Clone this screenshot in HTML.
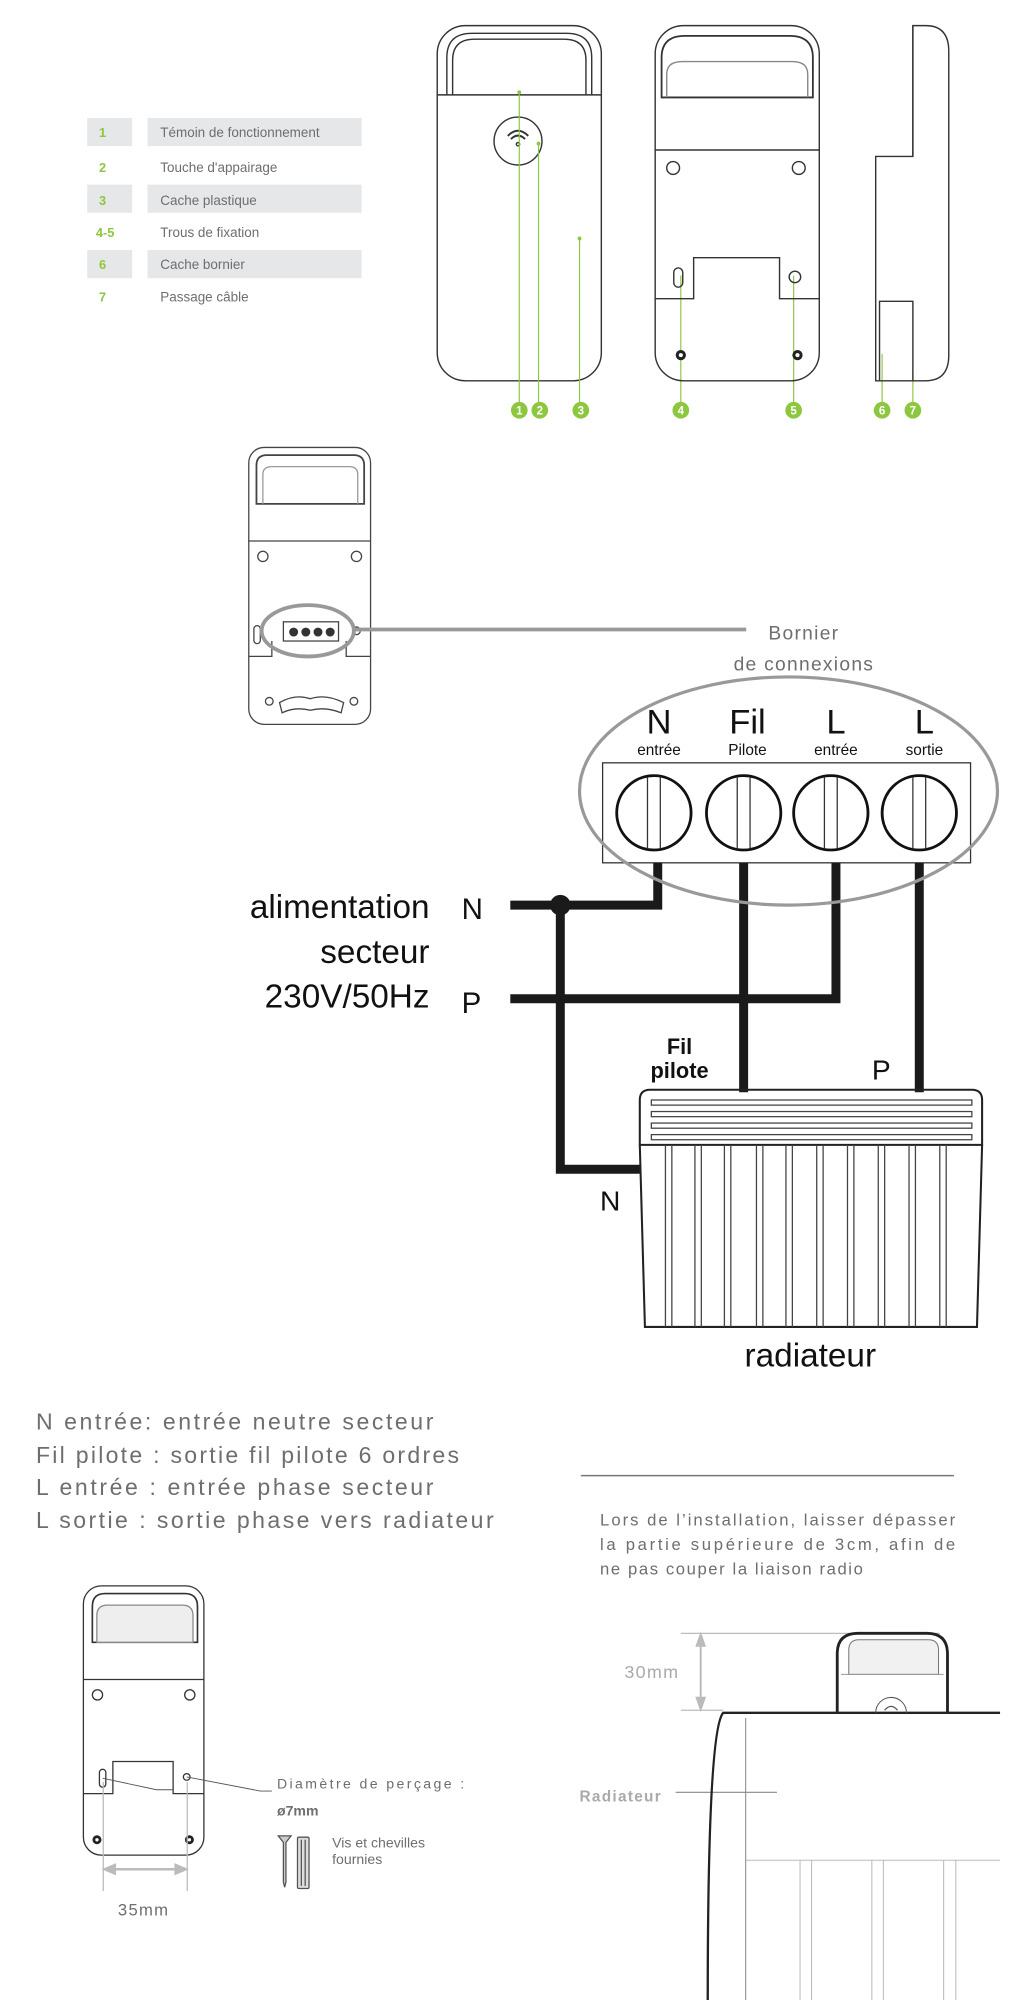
<!DOCTYPE html>
<html><head><meta charset="utf-8"><style>
html,body{margin:0;padding:0;background:#fff;}
svg{display:block;}
.g{font-family:"Liberation Sans",sans-serif;fill:#6d6e70;}
.k{font-family:"Liberation Sans",sans-serif;fill:#111;}
</style></head><body>
<svg width="1036" height="2000" viewBox="0 0 808 1560" xmlns="http://www.w3.org/2000/svg">
<!-- legend -->
<g>
<rect x="68" y="92" width="35" height="22" fill="#e6e7e8"/><rect x="115" y="92" width="167" height="22" fill="#e6e7e8"/>
<rect x="68" y="144" width="35" height="22" fill="#e6e7e8"/><rect x="115" y="144" width="167" height="22" fill="#e6e7e8"/>
<rect x="68" y="195" width="35" height="22" fill="#e6e7e8"/><rect x="115" y="195" width="167" height="22" fill="#e6e7e8"/>
<g font-family="Liberation Sans,sans-serif" font-size="10" font-weight="bold" fill="#8dc63f" text-anchor="middle">
<text x="80" y="107">1</text><text x="80" y="134">2</text><text x="80" y="160">3</text><text x="82" y="185">4-5</text><text x="80" y="210">6</text><text x="80" y="235">7</text></g>
<g class="g" font-size="10.5">
<text x="125" y="107">Témoin de fonctionnement</text><text x="125" y="134">Touche d'appairage</text><text x="125" y="160">Cache plastique</text><text x="125" y="185">Trous de fixation</text><text x="125" y="210">Cache bornier</text><text x="125" y="235">Passage câble</text></g>
</g>
<!-- front device -->
<g fill="none" stroke="#333" stroke-width="1.1">
<rect x="341" y="20" width="128" height="277" rx="22"/>
<path d="M348.5 74 V45 Q348.5 26 368 26 H442 Q461.5 26 461.5 45 V74"/>
<path d="M353 74 V47 Q353 30.6 370 30.6 H440 Q457 30.6 457 47 V74"/>
<line x1="341" y1="74" x2="469" y2="74"/>
<circle cx="404" cy="110" r="18.7"/>
<path d="M396 106 Q404 98 412 106 M398.5 108.5 Q404 103 409.5 108.5" stroke-width="1.5"/>
<circle cx="404" cy="112.5" r="1.3"/>
</g>
<g stroke="#8dc63f" stroke-width="0.9">
<line x1="405" y1="72" x2="405" y2="320"/><line x1="420" y1="112" x2="420" y2="320"/><line x1="452" y1="186" x2="452" y2="320"/>
<line x1="531" y1="215" x2="531" y2="320"/><line x1="619" y1="215" x2="619" y2="320"/>
<line x1="688" y1="276" x2="688" y2="320"/><line x1="712" y1="290" x2="712" y2="320"/>
</g>
<g fill="#8dc63f">
<circle cx="405" cy="320" r="6.5"/><circle cx="421" cy="320" r="6.5"/><circle cx="453" cy="320" r="6.5"/><circle cx="531" cy="320" r="6.5"/><circle cx="619" cy="320" r="6.5"/><circle cx="688" cy="320" r="6.5"/><circle cx="712" cy="320" r="6.5"/>
<circle cx="405" cy="72" r="1.5"/><circle cx="420" cy="112" r="1.5"/><circle cx="452" cy="186" r="1.5"/>
</g>
<g font-family="Liberation Sans,sans-serif" font-size="9" font-weight="bold" fill="#fff" text-anchor="middle">
<text x="405" y="323.5">1</text><text x="421" y="323.5">2</text><text x="453" y="323.5">3</text><text x="531" y="323.5">4</text><text x="619" y="323.5">5</text><text x="688" y="323.5">6</text><text x="712" y="323.5">7</text></g>
<!-- back device -->
<g fill="none" stroke="#333" stroke-width="1.1">
<rect x="511" y="20" width="128" height="277" rx="22"/>
<path d="M516 76 V45 Q516 28 534 28 H616 Q634 28 634 45 V76 Z" stroke-width="1.4"/>
<path d="M520 76 V58 Q520 48 532 48 H618 Q630 48 630 58 V76" stroke="#888"/>
<line x1="511" y1="117" x2="639" y2="117"/>
<circle cx="525" cy="131" r="5"/><circle cx="623" cy="131" r="5"/>
<path d="M511 233 H541 V201 H608 V233 H639"/>
<rect x="525.5" y="209" width="7" height="15" rx="3.5"/>
<circle cx="620" cy="216" r="4.5"/>
</g>
<g><circle cx="531" cy="277" r="4" fill="#222"/><circle cx="531" cy="277" r="1.6" fill="#fff"/><circle cx="622" cy="277" r="4" fill="#222"/><circle cx="622" cy="277" r="1.6" fill="#fff"/></g>
<!-- side view -->
<g fill="none" stroke="#333" stroke-width="1.1">
<path d="M712 20 H722 Q740 20 740 40 V277 Q740 297 722 297 H683 V122 H712 Z"/>
<path d="M686 297 V235 H712 V297"/>
<line x1="712" y1="20" x2="712" y2="122"/>
</g>
<!-- bornier device -->
<g fill="none" stroke="#444" stroke-width="1">
<rect x="194" y="349" width="95" height="216" rx="12"/>
<path d="M200 393 V363 Q200 355 208 355 H276 Q284 355 284 363 V393 Z" stroke-width="1.4"/>
<path d="M205 393 V370 Q205 364 212 364 H272 Q279 364 279 370 V393" stroke="#999"/>
<line x1="194" y1="422" x2="289" y2="422"/>
<circle cx="205" cy="434" r="4"/><circle cx="278" cy="434" r="4"/>
<path d="M194 512 H212 V500 M289 512 H270 V500"/>
<rect x="221" y="485" width="43" height="15"/>
<rect x="198" y="488" width="5" height="14" rx="2.5"/>
<circle cx="278" cy="492" r="3"/>
<circle cx="210" cy="547" r="3"/><circle cx="276" cy="547" r="3"/>
<path d="M218 548 Q230 541 242 545 Q254 541 268 548 L266 556 Q254 551 242 554 Q230 551 220 556 Z"/>
</g>
<g fill="#333"><circle cx="229" cy="493" r="3.5"/><circle cx="238.5" cy="493" r="3.5"/><circle cx="248" cy="493" r="3.5"/><circle cx="257.5" cy="493" r="3.5"/></g>
<ellipse cx="240" cy="492" rx="36" ry="20" fill="none" stroke="#999" stroke-width="3"/>
<line x1="276" y1="491" x2="582" y2="491" stroke="#999" stroke-width="3"/>
<text class="g" x="627" y="499" font-size="15" text-anchor="middle" letter-spacing="1">Bornier</text>
<text class="g" x="627" y="523" font-size="15" text-anchor="middle" letter-spacing="1">de connexions</text>
<!-- terminal block -->
<rect x="470" y="595" width="287" height="78" fill="none" stroke="#333" stroke-width="1"/>
<g fill="none" stroke="#111" stroke-width="2.2">
<circle cx="510" cy="634" r="29"/><circle cx="580" cy="634" r="29"/><circle cx="648" cy="634" r="29"/><circle cx="717" cy="634" r="29"/></g>
<g stroke="#333" stroke-width="1">
<line x1="505" y1="606" x2="505" y2="662"/><line x1="515" y1="606" x2="515" y2="662"/>
<line x1="575" y1="606" x2="575" y2="662"/><line x1="585" y1="606" x2="585" y2="662"/>
<line x1="643" y1="606" x2="643" y2="662"/><line x1="653" y1="606" x2="653" y2="662"/>
<line x1="712" y1="606" x2="712" y2="662"/><line x1="722" y1="606" x2="722" y2="662"/></g>
<g class="k" text-anchor="middle">
<text x="514" y="572" font-size="27">N</text><text x="583" y="572" font-size="27">Fil</text><text x="652" y="572" font-size="27">L</text><text x="721" y="572" font-size="27">L</text>
<text x="514" y="589" font-size="12">entrée</text><text x="583" y="589" font-size="12">Pilote</text><text x="652" y="589" font-size="12">entrée</text><text x="721" y="589" font-size="12">sortie</text></g>
<!-- wires -->
<g fill="none" stroke="#1a1a1a" stroke-width="7" stroke-linejoin="miter">
<path d="M398 706 H513 V673"/>
<path d="M437 706 V912 H499"/>
<path d="M398 779 H652 V673"/>
<path d="M580 673 V852"/>
<path d="M717 673 V852"/>
</g>
<circle cx="437" cy="706" r="8" fill="#1a1a1a"/>
<ellipse cx="615" cy="617" rx="163" ry="89" fill="none" stroke="#999" stroke-width="2.5"/>
<g class="k">
<text x="335" y="716" font-size="26" text-anchor="end">alimentation</text>
<text x="335" y="751" font-size="26" text-anchor="end">secteur</text>
<text x="335" y="786" font-size="26" text-anchor="end">230V/50Hz</text>
<text x="360" y="717" font-size="23">N</text><text x="360" y="790" font-size="23">P</text>
<text x="530" y="822" font-size="17" font-weight="bold" text-anchor="middle">Fil</text>
<text x="530" y="841" font-size="17" font-weight="bold" text-anchor="middle">pilote</text>
<text x="680" y="842" font-size="22">P</text>
<text x="468" y="944" font-size="22">N</text>
<text x="632" y="1066" font-size="26" text-anchor="middle">radiateur</text>
</g>
<!-- radiator -->
<g fill="none" stroke="#222" stroke-width="1.6">
<path d="M499 893 V858 Q499 850 507 850 H758 Q766 850 766 858 V893 Z"/>
<path d="M499 893 L503 1035 H762 L766 893"/>
</g>
<g stroke="#444" stroke-width="1">
<rect x="508" y="858" width="250" height="4" fill="none"/><rect x="508" y="867" width="250" height="4" fill="none"/><rect x="508" y="876" width="250" height="4" fill="none"/><rect x="508" y="885" width="250" height="4" fill="none"/>
<line x1="519" y1="893" x2="519" y2="1035"/><line x1="524" y1="893" x2="524" y2="1035"/>
<line x1="542" y1="893" x2="542" y2="1035"/><line x1="547" y1="893" x2="547" y2="1035"/>
<line x1="565" y1="893" x2="565" y2="1035"/><line x1="570" y1="893" x2="570" y2="1035"/>
<line x1="590" y1="893" x2="590" y2="1035"/><line x1="595" y1="893" x2="595" y2="1035"/>
<line x1="613" y1="893" x2="613" y2="1035"/><line x1="618" y1="893" x2="618" y2="1035"/>
<line x1="637" y1="893" x2="637" y2="1035"/><line x1="642" y1="893" x2="642" y2="1035"/>
<line x1="661" y1="893" x2="661" y2="1035"/><line x1="666" y1="893" x2="666" y2="1035"/>
<line x1="685" y1="893" x2="685" y2="1035"/><line x1="690" y1="893" x2="690" y2="1035"/>
<line x1="709" y1="893" x2="709" y2="1035"/><line x1="714" y1="893" x2="714" y2="1035"/>
<line x1="733" y1="893" x2="733" y2="1035"/><line x1="738" y1="893" x2="738" y2="1035"/>
</g>
<!-- explanatory text -->
<g class="g" font-size="18">
<text x="28" y="1115" textLength="310" lengthAdjust="spacing">N entrée: entrée neutre secteur</text>
<text x="28" y="1141" textLength="330" lengthAdjust="spacing">Fil pilote : sortie fil pilote 6 ordres</text>
<text x="28" y="1166" textLength="310" lengthAdjust="spacing">L entrée : entrée phase secteur</text>
<text x="28" y="1192" textLength="357" lengthAdjust="spacing">L sortie : sortie phase vers radiateur</text>
</g>
<line x1="453" y1="1151" x2="744" y2="1151" stroke="#777" stroke-width="1.2"/>
<g class="g" font-size="13">
<text x="468" y="1190" textLength="277" lengthAdjust="spacing">Lors de l’installation, laisser dépasser</text>
<text x="468" y="1209" textLength="277" lengthAdjust="spacing">la partie supérieure de 3cm, afin de</text>
<text x="468" y="1228" textLength="205" lengthAdjust="spacing">ne pas couper la liaison radio</text>
</g>
<!-- bottom-left device -->
<g fill="none" stroke="#333" stroke-width="1">
<rect x="65" y="1237" width="94" height="210" rx="14"/>
<path d="M72 1281 V1253 Q72 1243 82 1243 H144 Q154 1243 154 1253 V1281 Z" stroke-width="1.3"/>
<path d="M75.5 1281 V1260 Q75.5 1252 84 1252 H142 Q150.5 1252 150.5 1260 V1281 Z" fill="#eee" stroke="#888"/>
<line x1="65" y1="1310" x2="159" y2="1310"/>
<circle cx="76" cy="1322" r="4"/><circle cx="148" cy="1322" r="4"/>
<path d="M65 1399 H88 V1374 H135 V1399 H159"/>
<rect x="77.5" y="1380" width="5" height="14" rx="2.5"/>
<circle cx="145.6" cy="1386" r="2.6"/>
</g>
<g stroke="#555" stroke-width="0.7" fill="none">
<path d="M80 1387 L122 1396 H135"/><path d="M145.6 1386 L203 1397 H212"/>
</g>
<g><circle cx="75.6" cy="1435" r="3.5" fill="#222"/><circle cx="75.6" cy="1435" r="1.3" fill="#fff"/><circle cx="147.7" cy="1435" r="3.5" fill="#222"/><circle cx="147.7" cy="1435" r="1.3" fill="#fff"/></g>
<g stroke="#bbb" stroke-width="1" fill="none">
<line x1="80.5" y1="1390" x2="80.5" y2="1475"/><line x1="146" y1="1390" x2="146" y2="1475"/>
<line x1="86" y1="1458" x2="141" y2="1458" stroke-width="2"/>
<path d="M80.5 1458 L90 1454 V1462 Z M146 1458 L136.5 1454 V1462 Z" fill="#bbb"/>
</g>
<text class="g" x="112" y="1494" font-size="13" text-anchor="middle" fill="#999" letter-spacing="1">35mm</text>
<text class="g" x="216" y="1395" font-size="11" textLength="146" lengthAdjust="spacing">Diamètre de perçage :</text>
<text class="g" x="216" y="1416" font-size="11" font-weight="bold" fill="#444">ø7mm</text>
<g fill="none" stroke="#555" stroke-width="1">
<path d="M217 1432 H227 L223 1437 V1468 L222 1472 L221 1468 V1437 Z" fill="#ccc"/>
<rect x="232" y="1433" width="9" height="40" rx="1" fill="#ddd"/>
<line x1="235" y1="1435" x2="235" y2="1471"/><line x1="238" y1="1435" x2="238" y2="1471"/>
</g>
<text class="g" x="259" y="1441" font-size="11">Vis et chevilles</text>
<text class="g" x="259" y="1454" font-size="11">fournies</text>
<!-- bottom-right -->
<g stroke="#bbb" stroke-width="1" fill="none">
<line x1="531" y1="1274" x2="733" y2="1274"/><line x1="531" y1="1334" x2="564" y2="1334"/>
<line x1="546.5" y1="1280" x2="546.5" y2="1328" stroke-width="1.5"/>
<path d="M546.5 1274 L543 1284 H550 Z M546.5 1334 L543 1324 H550 Z" fill="#bbb"/>
</g>
<text x="487" y="1309" font-family="Liberation Sans,sans-serif" font-size="14" fill="#aaa" letter-spacing="1">30mm</text>
<text x="452" y="1405" font-family="Liberation Sans,sans-serif" font-size="12" font-weight="bold" fill="#aaa" letter-spacing="1">Radiateur</text>
<line x1="527" y1="1398" x2="606" y2="1398" stroke="#888" stroke-width="0.8"/>
<g fill="none" stroke="#222">
<path d="M552 1560 Q552 1350 564 1336 H780" stroke-width="1.8"/>
<path d="M653 1336 V1290 Q653 1274 669 1274 H723 Q739 1274 739 1290 V1336" stroke-width="2.2"/>
</g>
<path d="M662 1306 V1287 Q662 1279 670 1279 H724 Q732 1279 732 1287 V1306 Z" fill="#f1f1f1" stroke="#777" stroke-width="0.8"/>
<line x1="656" y1="1306" x2="736" y2="1306" stroke="#999" stroke-width="0.8"/>
<path d="M683 1336 A12 12 0 0 1 707 1336" fill="none" stroke="#555" stroke-width="0.8"/>
<path d="M690 1334 Q695 1328 700 1334" fill="none" stroke="#555" stroke-width="1"/>
<g stroke="#888" stroke-width="0.8">
<line x1="581.6" y1="1340" x2="581.6" y2="1560"/>
<line x1="581.6" y1="1451" x2="780" y2="1451" stroke="#bbb"/>
<line x1="624" y1="1451" x2="624" y2="1560" stroke="#bbb"/><line x1="633" y1="1451" x2="633" y2="1560" stroke="#bbb"/>
<line x1="680" y1="1451" x2="680" y2="1560" stroke="#bbb"/><line x1="689" y1="1451" x2="689" y2="1560" stroke="#bbb"/>
<line x1="736" y1="1451" x2="736" y2="1560" stroke="#bbb"/><line x1="745.5" y1="1451" x2="745.5" y2="1560" stroke="#bbb"/>
</g>
</svg>
</body></html>
